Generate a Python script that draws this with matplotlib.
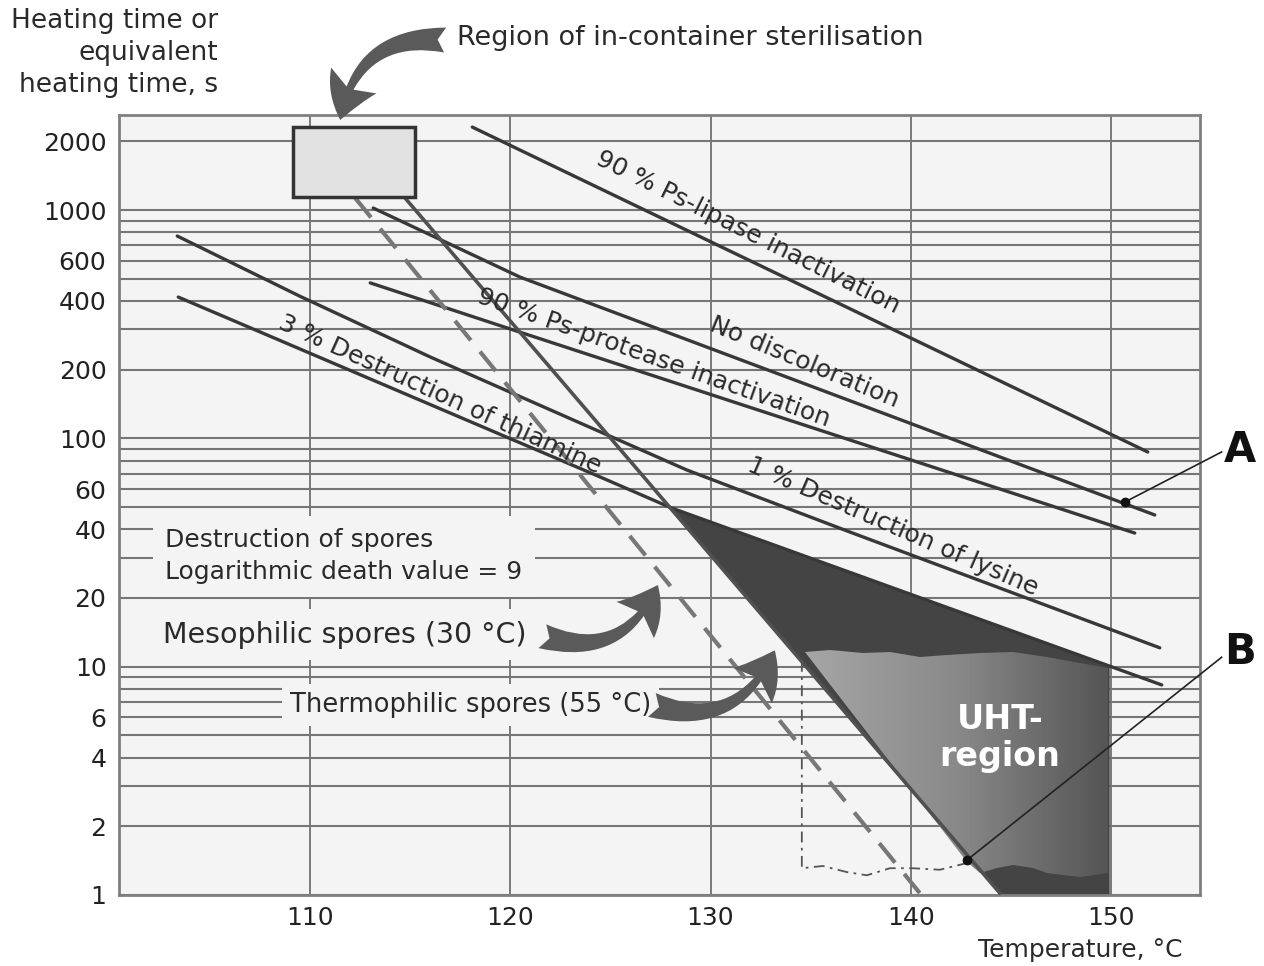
import matplotlib
matplotlib.use('Agg')
import matplotlib.pyplot as plt
import numpy as np
from matplotlib.patches import FancyArrowPatch, Polygon
from matplotlib.ticker import NullFormatter
from matplotlib.colors import LinearSegmentedColormap

plt.rcParams['font.family'] = ['DejaVu Sans']

# ---------------- data ----------------
x_limits = (100.45, 154.45)
y_limits = (1.0, 2610.0)
x_ticks = [110, 120, 130, 140, 150]
y_ticks = [1, 2, 4, 6, 10, 20, 40, 60, 100, 200, 400, 600, 1000, 2000]
y_tick_labels = ['1', '2', '4', '6', '10', '20', '40', '60', '100', '200',
                 '400', '600', '1000', '2000']
grid_minor = [3, 5, 7, 8, 9, 30, 50, 70, 80, 90, 300, 500, 700, 800, 900]

lipase_T = [118.1, 151.84]
lipase_t = [2310, 87.2]
discol_T = [113.15, 120.48, 152.19]
discol_t = [1021, 509, 46.2]
protease_T = [113.0, 120.48, 151.19]
protease_t = [480, 292, 38.5]
lysine_T = [103.36, 109.5, 115.99, 128.82, 136.96, 152.44]
lysine_t = [770, 419, 227.5, 72.7, 38.9, 12.1]
thiamine_T = [103.41, 124.48, 128.07, 152.54]
thiamine_t = [416, 67.8, 49.5, 8.32]
thermo_T = [114.74, 144.45]
thermo_t = [1130, 1.02]
meso_T = [112.25, 140.45]
meso_t = [1130, 1.02]

box_T = [109.15, 115.24]
box_t = [1141, 2312]

uht_T = [128.07, 149.94, 149.94, 144.45]
uht_t = [49.5, 10.05, 1.0, 1.0]

light_T = [134.71, 135.96, 137.61, 138.96, 140.45, 141.80, 143.45, 145.10,
           146.79, 148.44, 149.84, 149.84, 148.44, 147.59, 146.79, 146.10,
           145.10, 144.30, 143.45, 142.80]
light_t = [11.6, 11.8, 11.5, 11.6, 11.0, 11.25, 11.5, 11.6, 11.0, 10.4, 9.87,
           1.25, 1.20, 1.22, 1.25, 1.31, 1.35, 1.31, 1.25, 1.40]

dashdot_T = [134.56, 134.56, 135.61, 136.81, 137.81, 138.96, 140.10, 141.45, 142.80]
dashdot_t = [10.6, 1.31, 1.34, 1.26, 1.22, 1.31, 1.31, 1.29, 1.38]

point_A = (150.69, 52.6)
point_B = (142.80, 1.42)

# ---------------- figure ----------------
fig = plt.figure(figsize=(12.64, 9.66), dpi=100)
ax = fig.add_axes([119/1264, 1-895/966, (1200-119)/1264, (895-115)/966])
bg = '#f4f4f4'
ax.set_facecolor(bg)
ax.set_yscale('log')
ax.set_xlim(*x_limits)
ax.set_ylim(*y_limits)

ax.set_xticks(x_ticks)
ax.set_xticklabels([str(v) for v in x_ticks])
ax.set_yticks(y_ticks, labels=y_tick_labels)
ax.set_yticks(grid_minor, minor=True)
ax.yaxis.set_minor_formatter(NullFormatter())
ax.tick_params(which='both', length=0, labelsize=18, colors='#222222')
ax.tick_params(axis='y', pad=9)
ax.tick_params(axis='x', pad=8)
ax.grid(True, axis='y', which='both', color='#767676', lw=1.5, zorder=0)
ax.grid(True, axis='x', which='major', color='#666666', lw=1.2, zorder=0)
ax.set_axisbelow(True)
for s in ax.spines.values():
    s.set_color('#808080')
    s.set_linewidth(2)

line_c = '#383838'

# UHT dark region
ax.fill(uht_T, uht_t, color='#444444', lw=0, zorder=2)
# lighter gradient region
light_poly = Polygon(list(zip(light_T, light_t)), closed=True,
                     transform=ax.transData, fc='none', ec='none')
ax.add_patch(light_poly)
gx = np.linspace(134.5, 150.0, 120)
gy = np.array([1.0, 12.5])
C = gx[:-1].reshape(1, -1)
cmap = LinearSegmentedColormap.from_list('g', ['#a6a6a6', '#898989', '#545454'])
pm = ax.pcolormesh(gx, gy, C, cmap=cmap, shading='flat', zorder=3)
pm.set_clip_path(light_poly)

# lines
for T, t in [(lipase_T, lipase_t), (discol_T, discol_t), (protease_T, protease_t),
             (lysine_T, lysine_t), (thiamine_T, thiamine_t)]:
    ax.plot(T, t, color=line_c, lw=2.4, zorder=4, solid_capstyle='round',
            solid_joinstyle='round')
ax.plot(thermo_T, thermo_t, color='#505050', lw=2.6, zorder=4)
ax.plot(meso_T, meso_t, color='#777777', lw=3.0, zorder=4, dashes=(6, 3.5))
ax.plot(dashdot_T, dashdot_t, color='#555555', lw=1.3, zorder=4,
        dashes=(6, 3, 1.5, 3))

# in-container box
ax.fill([box_T[0], box_T[1], box_T[1], box_T[0]],
        [box_t[0], box_t[0], box_t[1], box_t[1]],
        fc='#e2e2e2', ec='#333333', lw=2.5, zorder=5)

# A / B markers
ax.plot([point_A[0], 155.53], [point_A[1], 87.2], color='#222222', lw=1.2,
        zorder=6, clip_on=False)
ax.plot([point_B[0], 155.53], [point_B[1], 11.0], color='#222222', lw=1.2,
        zorder=6, clip_on=False)
ax.plot(*point_A, 'o', color='#111111', ms=6, zorder=7)
ax.plot(*point_B, 'o', color='#111111', ms=6, zorder=7)
ax.text(156.43, 89, 'A', fontsize=30, fontweight='bold', ha='center',
        va='center', clip_on=False, color='#111111')
ax.text(156.43, 11.6, 'B', fontsize=30, fontweight='bold', ha='center',
        va='center', clip_on=False, color='#111111')

# rotated line labels
lab_kw = dict(fontsize=18, ha='center', va='center', rotation_mode='anchor',
              color='#2a2a2a', zorder=6)
ax.text(131.87, 802, '90 % Ps-lipase inactivation', rotation=-26.5, **lab_kw)
ax.text(134.71, 216, 'No discoloration', rotation=-22.5, **lab_kw)
ax.text(127.17, 225, '90 % Ps-protease inactivation', rotation=-19.5, **lab_kw)
ax.text(116.49, 156, '3 % Destruction of thiamine', rotation=-24.5, **lab_kw)
ax.text(139.1, 40.9, '1 % Destruction of lysine', rotation=-23.5, **lab_kw)

# boxed annotations
ax.text(102.75, 30.5, 'Destruction of spores\nLogarithmic death value = 9',
        fontsize=18, ha='left', va='center', linespacing=1.42, color='#2a2a2a',
        bbox=dict(boxstyle='square,pad=0.5', fc=bg, ec='none'), zorder=5)
ax.text(102.65, 13.8, 'Mesophilic spores (30 \u00b0C)', fontsize=20.5, ha='left',
        va='center', color='#2a2a2a',
        bbox=dict(boxstyle='square,pad=0.4', fc=bg, ec='none'), zorder=5)
ax.text(109.0, 6.8, 'Thermophilic spores (55 \u00b0C)', fontsize=18.5, ha='left',
        va='center', color='#2a2a2a',
        bbox=dict(boxstyle='square,pad=0.3', fc=bg, ec='none'), zorder=5)
ax.text(144.45, 4.87, 'UHT-\nregion', fontsize=24, fontweight='bold',
        color='white', ha='center', va='center', linespacing=1.15, zorder=6)

ax.text(117.34, 5675, 'Region of in-container sterilisation', fontsize=19.5,
        ha='left', va='center', clip_on=False, color='#2a2a2a')

# curved arrows
def big_arrow(p0, p1, rad):
    a = FancyArrowPatch(p0, p1, connectionstyle='arc3,rad=%s' % rad,
                        arrowstyle='fancy,head_length=1.0,head_width=1.25,tail_width=0.6',
                        mutation_scale=30, color='#5a5a5a', lw=0,
                        shrinkA=0, shrinkB=0, clip_on=False, zorder=7)
    ax.add_patch(a)

big_arrow((116.74, 5560), (111.5, 2483), 0.45)
big_arrow((121.6, 13.6), (127.37, 22.8), 0.45)
big_arrow((127.07, 6.8), (133.21, 11.8), 0.45)

fig.text(218/1264, 1-8/966, 'Heating time or\nequivalent\nheating time, s',
         fontsize=19, ha='right', va='top', multialignment='right',
         linespacing=1.3, color='#2a2a2a')
fig.text(1080/1264, 1-950/966, 'Temperature, \u00b0C', fontsize=18,
         ha='center', va='center', color='#2a2a2a')

fig.savefig('out.png', dpi=100, facecolor='white')
